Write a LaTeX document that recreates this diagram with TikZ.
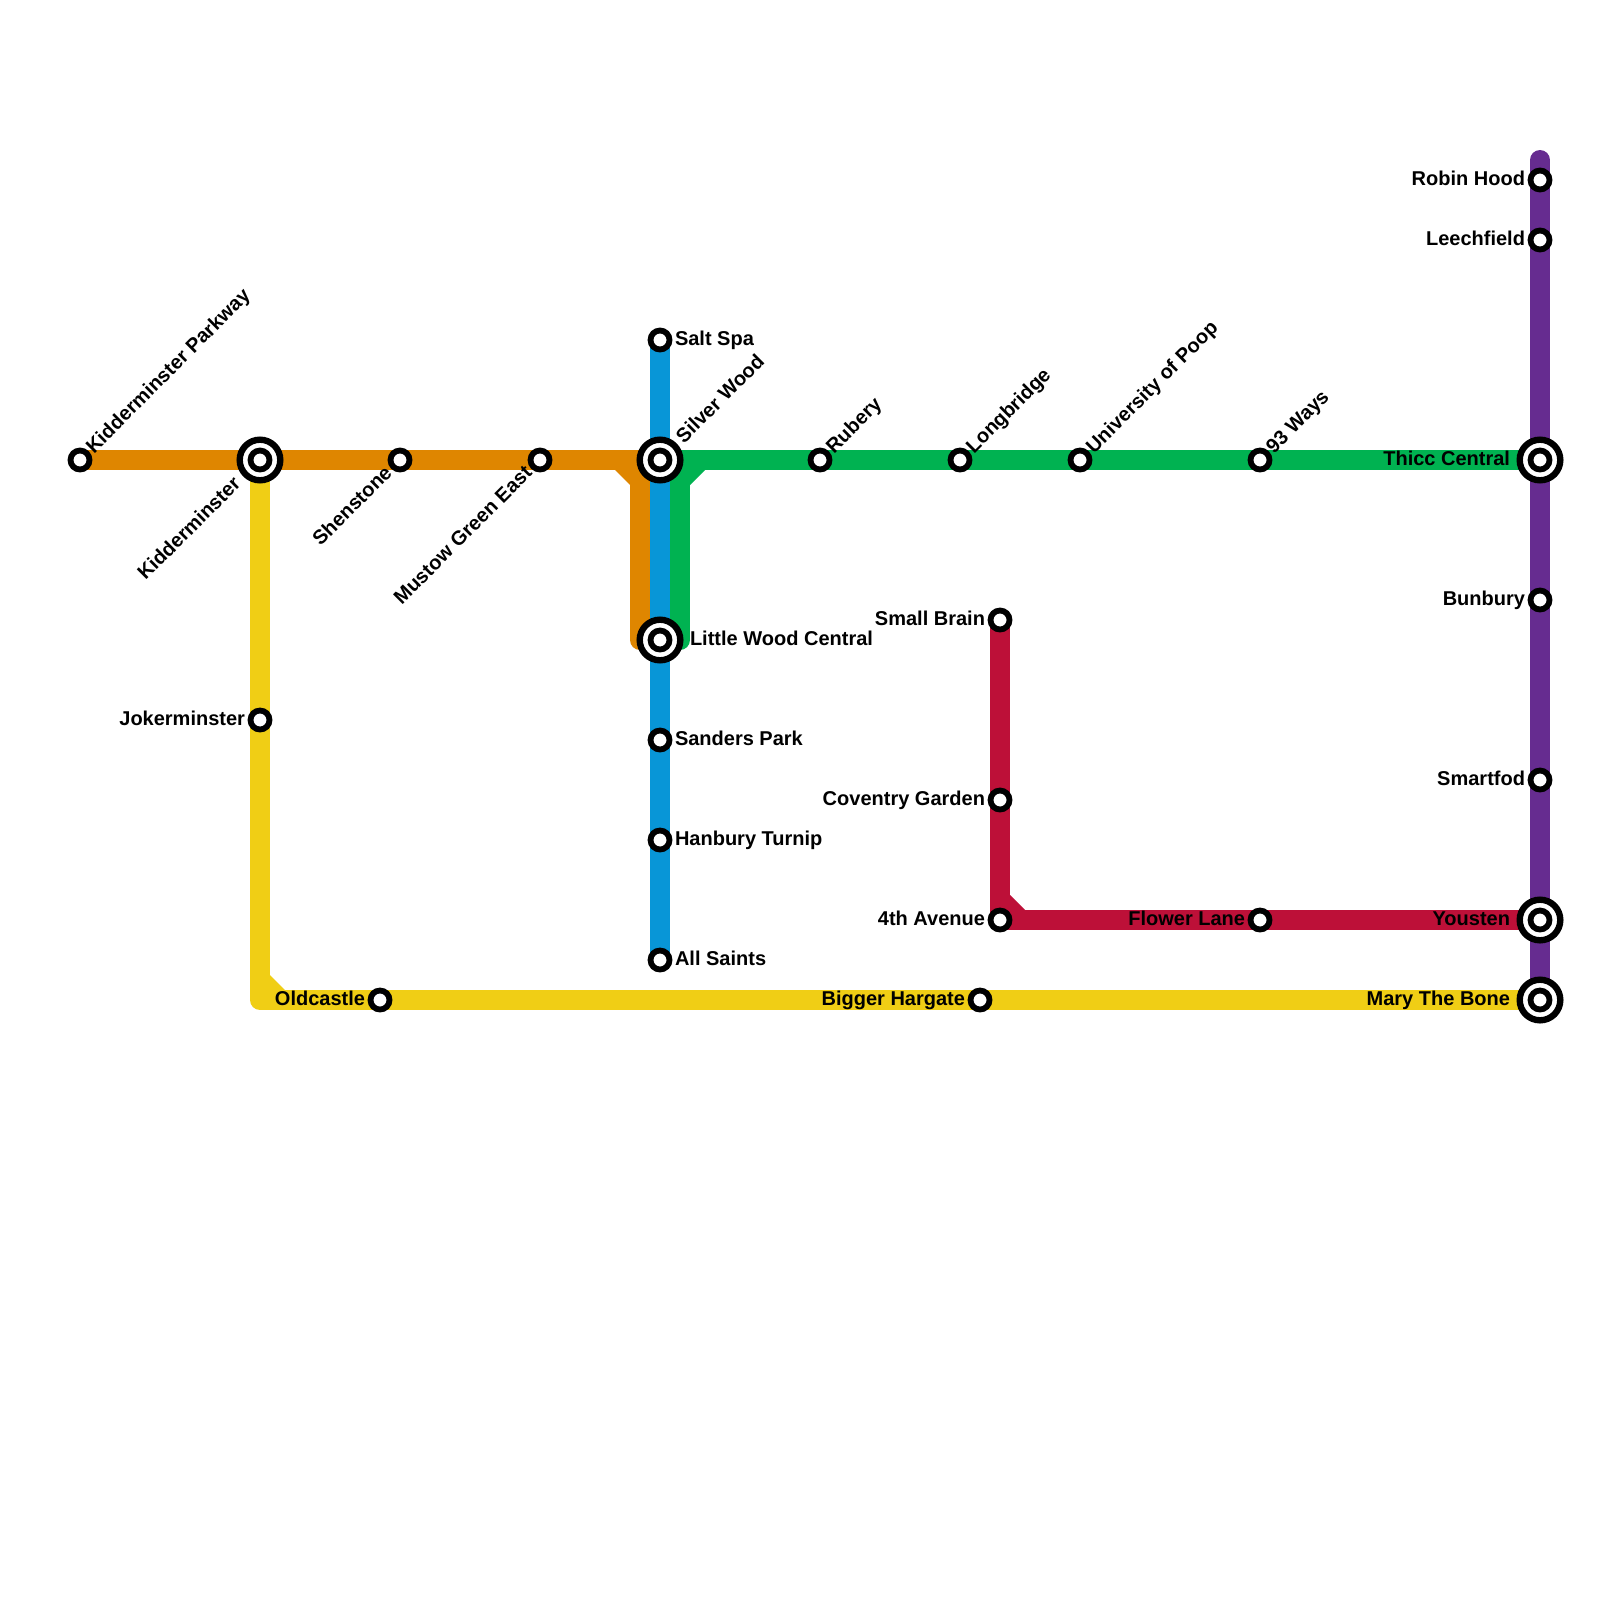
\documentclass[tikz,border=0pt]{standalone}
\usepackage{fontspec}
\setmainfont{Liberation Sans}
\usetikzlibrary{calc,backgrounds}
\definecolor{orangeline}{HTML}{DF8600}
\definecolor{blueline}{HTML}{0896D7}
\definecolor{greenline}{HTML}{00B251}
\definecolor{yellowline}{HTML}{F0CE15}
\definecolor{redline}{HTML}{BD1038}
\definecolor{purpleline}{HTML}{662C90}
\tikzset{
  metro/.style={line width=20pt,line join=round,line cap=butt},
  stn/.style={circle,draw=black,fill=white,line width=5.8pt,minimum size=19pt,inner sep=0pt,outer sep=0pt},
  hubring/.style={circle,draw=black,fill=white,line width=6.4pt,minimum size=40.6pt,inner sep=0pt,outer sep=0pt},
  lab/.style={font=\bfseries\fontsize{20}{24}\selectfont,inner sep=0pt,outer sep=0pt,text height=14.4pt,text depth=4.2pt,text=black},
  labr/.style={lab,anchor=west},
  labl/.style={lab,anchor=east},
  labur/.style={lab,anchor=west,rotate=45},
  labdl/.style={lab,anchor=east,rotate=45},
}
\newcommand{\stnat}[3]{\node[stn] (#1) at (#2,#3) {};}
\newcommand{\hubat}[3]{\node[hubring] (#1ring) at (#2,#3) {};\node[stn] (#1) at (#2,#3) {};}
\begin{document}
\begin{tikzpicture}[x=1pt,y=-1pt]
\useasboundingbox (0,0) rectangle (1600,1600);
\stnat{parkway}{80}{460}
\hubat{kidder}{260}{460}
\stnat{shen}{400}{460}
\stnat{mustow}{540}{460}
\hubat{silver}{660}{460}
\stnat{rubery}{820}{460}
\stnat{longb}{960}{460}
\stnat{univ}{1080}{460}
\stnat{ways}{1260}{460}
\hubat{thicc}{1540}{460}
\stnat{salt}{660}{340}
\hubat{little}{660}{640}
\stnat{sanders}{660}{740}
\stnat{hanbury}{660}{840}
\stnat{saints}{660}{960}
\stnat{robin}{1540}{180}
\stnat{leech}{1540}{240}
\stnat{bunbury}{1540}{600}
\stnat{smart}{1540}{780}
\hubat{yousten}{1540}{920}
\hubat{mary}{1540}{1000}
\stnat{small}{1000}{620}
\stnat{coventry}{1000}{800}
\stnat{fourth}{1000}{920}
\stnat{flower}{1260}{920}
\stnat{joker}{260}{720}
\stnat{oldc}{380}{1000}
\stnat{bigger}{980}{1000}
\coordinate (purpletop) at (1540,160);
\coordinate (yellowcorner) at (260,1000);
\coordinate (orangecorner) at (640,460);
\coordinate (orangebottom) at (640,640);
\coordinate (greencorner) at (680,460);
\coordinate (greenbottom) at (680,640);
\coordinate (redcorner) at (1000,920);
\begin{scope}[on background layer]
\fill[white] (0,0) rectangle (1600,1600);
\draw[metro,blueline] (salt.center) -- (saints.center);
\draw[metro,purpleline,line cap=round] (purpletop) -- (mary.center);
\draw[metro,yellowline] (kidder.center) -- (yellowcorner) -- (mary.center);
\fill[yellowline] ($(yellowcorner)+(10,-25)$) -- ($(yellowcorner)+(25,-10)$) -- ($(yellowcorner)+(10,-10)$) -- cycle;
\draw[metro,redline] (small.center) -- (redcorner) -- (yousten.center);
\fill[redline] ($(redcorner)+(10,-25)$) -- ($(redcorner)+(25,-10)$) -- ($(redcorner)+(10,-10)$) -- cycle;
\draw[metro,orangeline] (parkway.center) -- (silver.center);
\draw[metro,orangeline] (orangecorner) -- (orangebottom) -- (little.center);
\fill[orangeline] ($(orangecorner)+(-10,25)$) -- ($(orangecorner)+(-25,10)$) -- ($(orangecorner)+(-10,10)$) -- cycle;
\draw[metro,greenline] (silver.center) -- (thicc.center);
\draw[metro,greenline] (greencorner) -- (greenbottom) -- (little.center);
\fill[greenline] ($(greencorner)+(10,25)$) -- ($(greencorner)+(25,10)$) -- ($(greencorner)+(10,10)$) -- cycle;
\end{scope}
% labels
\node[labur] (lparkway) at ($(parkway)+(10.4,-9.4)$) {Kidderminster Parkway};
\node[labdl] (lkidder) at ($(kidder)+(-22,21.5)$) {Kidderminster};
\node[labdl] (lshen) at ($(shen)+(-10.6,10.6)$) {Shenstone};
\node[labdl] (lmustow) at ($(mustow)+(-10.6,10.6)$) {Mustow Green East};
\node[labur] (lsilver) at ($(silver)+(20.4,-19.4)$) {Silver Wood};
\node[labur] (lrubery) at ($(rubery)+(10.4,-9.4)$) {Rubery};
\node[labur] (llongb) at ($(longb)+(10.4,-9.4)$) {Longbridge};
\node[labur] (luniv) at ($(univ)+(10.4,-9.4)$) {University of Poop};
\node[labur] (lways) at ($(ways)+(10.4,-9.4)$) {93 Ways};
\node[labl] (lthicc) at ($(thicc)+(-30,0)$) {Thicc Central};
\node[labr] (lsalt) at ($(salt)+(15,0)$) {Salt Spa};
\node[labr] (llittle) at ($(little)+(30,0)$) {Little Wood Central};
\node[labr] (lsanders) at ($(sanders)+(15,0)$) {Sanders Park};
\node[labr] (lhanbury) at ($(hanbury)+(15,0)$) {Hanbury Turnip};
\node[labr] (lsaints) at ($(saints)+(15,0)$) {All Saints};
\node[labl] (lrobin) at ($(robin)+(-15,0)$) {Robin Hood};
\node[labl] (lleech) at ($(leech)+(-15,0)$) {Leechfield};
\node[labl] (lbunbury) at ($(bunbury)+(-15,0)$) {Bunbury};
\node[labl] (lsmart) at ($(smart)+(-15,0)$) {Smartfod};
\node[labl] (lyousten) at ($(yousten)+(-30,0)$) {Yousten};
\node[labl] (lmary) at ($(mary)+(-30,0)$) {Mary The Bone};
\node[labl] (lsmall) at ($(small)+(-15,0)$) {Small Brain};
\node[labl] (lcoventry) at ($(coventry)+(-15,0)$) {Coventry Garden};
\node[labl] (lfourth) at ($(fourth)+(-15,0)$) {4th Avenue};
\node[labl] (lflower) at ($(flower)+(-15,0)$) {Flower Lane};
\node[labl] (ljoker) at ($(joker)+(-15,0)$) {Jokerminster};
\node[labl] (loldc) at ($(oldc)+(-15,0)$) {Oldcastle};
\node[labl] (lbigger) at ($(bigger)+(-15,0)$) {Bigger Hargate};
\end{tikzpicture}
\end{document}
